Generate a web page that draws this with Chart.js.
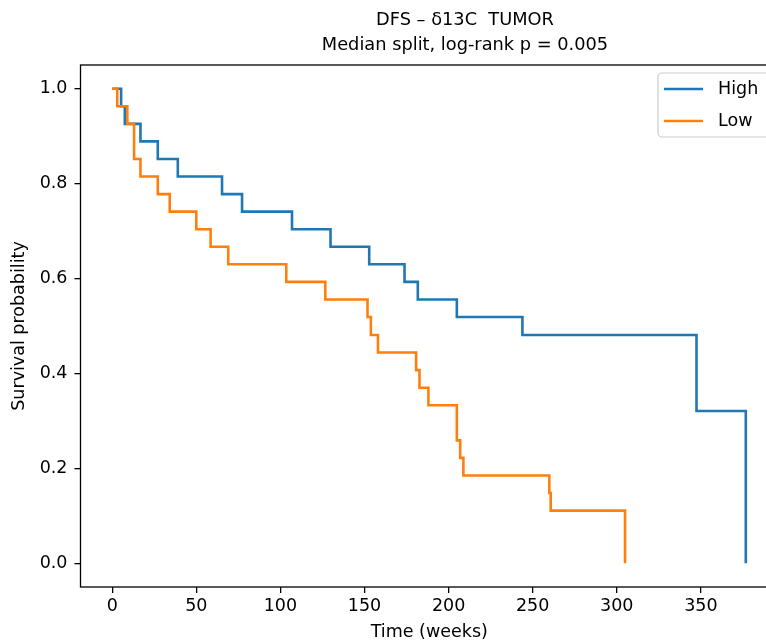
<!DOCTYPE html>
<html>
<head>
<meta charset="utf-8">
<script src="https://cdn.jsdelivr.net/npm/chart.js@4.4.0/dist/chart.umd.min.js"></script>
<style>
  html, body { margin: 0; padding: 0; background: #fff; overflow: hidden; }
  #wrap { width: 800px; height: 643px; }
</style>
</head>
<body>
<div id="wrap"><canvas id="km" width="800" height="643"></canvas></div>
<script>
// Kaplan-Meier curves, DFS by d13C tumor (median split)
const titleLines = ["DFS – δ13C  TUMOR", "Median split, log-rank p = 0.005"];

const highTimes = [0, 5.3, 7.5, 16.8, 27.1, 39, 65.3, 77.2, 106.9, 129.8, 152.8, 173.8, 181.7, 204.9, 243.9, 347.4, 376.7];
const highSurv  = [1.0, 0.963, 0.926, 0.889, 0.852, 0.815, 0.778, 0.741, 0.704, 0.667, 0.630, 0.593, 0.556, 0.519, 0.481, 0.321, 0.0];

const lowTimes = [0, 3, 9, 13, 16.8, 27.1, 34.2, 50, 58.5, 69, 103.5, 126.7, 151.8, 153.8, 158, 180.7, 182.7, 188, 204.9, 206.9, 208.8, 259.9, 260.7, 304.9];
const lowSurv  = [1.0, 0.963, 0.926, 0.852, 0.815, 0.778, 0.741, 0.704, 0.667, 0.630, 0.593, 0.556, 0.519, 0.481, 0.444, 0.407, 0.370, 0.333, 0.259, 0.222, 0.185, 0.148, 0.111, 0.0];

const xTicks = [0, 50, 100, 150, 200, 250, 300, 350];
const yTicks = [0.0, 0.2, 0.4, 0.6, 0.8, 1.0];

const BLUE = "#1f77b4";
const ORANGE = "#ff7f0e";
const FONT = "DejaVu Sans";

Chart.defaults.font.family = FONT;
Chart.defaults.font.size = 17.5;
Chart.defaults.color = "#000";

const toPoints = (ts, ss) => ts.map((t, i) => ({ x: t, y: ss[i] }));

// frame, titles and legend drawn like matplotlib
const decor = {
  id: "decor",
  afterDatasetsDraw(chart) {
    const { ctx, chartArea: a } = chart;
    ctx.save();
    ctx.strokeStyle = "#000";
    ctx.lineWidth = 1.3;
    ctx.strokeRect(a.left, a.top, a.right - a.left, a.bottom - a.top);

    // titles (centred on the full figure, which is wider than the crop)
    ctx.fillStyle = "#000";
    ctx.font = "17.8px '" + FONT + "'";
    ctx.textAlign = "center";
    ctx.textBaseline = "middle";
    const cx = 465;
    ctx.fillText(titleLines[0], cx, 20);
    ctx.fillText(titleLines[1], cx, 45);

    // legend
    const bx = 658, by = 73, bw = 112, bh = 64, r = 4;
    ctx.beginPath();
    ctx.roundRect(bx, by, bw, bh, r);
    ctx.fillStyle = "rgba(255,255,255,0.8)";
    ctx.fill();
    ctx.strokeStyle = "#cccccc";
    ctx.lineWidth = 1.2;
    ctx.stroke();
    const rows = [89, 121];
    chart.data.datasets.forEach(ds => {
      const y = rows[ds.legendRow];
      ctx.beginPath();
      ctx.moveTo(664, y);
      ctx.lineTo(703, y);
      ctx.strokeStyle = ds.borderColor;
      ctx.lineWidth = 2.6;
      ctx.stroke();
      ctx.fillStyle = "#000";
      ctx.font = "17.5px '" + FONT + "'";
      ctx.textAlign = "left";
      ctx.fillText(ds.label, 718, y);
    });
    ctx.restore();
  }
};

new Chart(document.getElementById("km"), {
  type: "line",
  data: {
    datasets: [
      {
        label: "High",
        legendRow: 0,
        order: 1,
        data: toPoints(highTimes, highSurv),
        borderColor: BLUE,
        borderWidth: 2.6,
        stepped: "before",
        pointRadius: 0,
        fill: false
      },
      {
        label: "Low",
        legendRow: 1,
        order: 0,
        data: toPoints(lowTimes, lowSurv),
        borderColor: ORANGE,
        borderWidth: 2.6,
        stepped: "before",
        pointRadius: 0,
        fill: false
      }
    ]
  },
  options: {
    responsive: false,
    animation: false,
    devicePixelRatio: 1,
    layout: { padding: { left: 0, right: 22, top: 65, bottom: 0 } },
    plugins: {
      legend: { display: false },
      title: { display: false },
      tooltip: { enabled: false }
    },
    scales: {
      x: {
        type: "linear",
        min: -18.85,
        max: 395.85,
        afterBuildTicks: s => { s.ticks = xTicks.map(v => ({ value: v })); },
        afterFit: s => { s.height = 56; },
        ticks: { padding: 3, maxRotation: 0, callback: v => String(v) },
        grid: { drawOnChartArea: false, tickLength: 6, color: "#000", lineWidth: 1.3 },
        border: { display: false },
        title: { display: true, text: "Time (weeks)", padding: { top: 0, bottom: 0 } }
      },
      y: {
        type: "linear",
        min: -0.05,
        max: 1.05,
        afterBuildTicks: s => { s.ticks = yTicks.map(v => ({ value: v })); },
        afterFit: s => { s.width = 80.5; },
        ticks: { padding: 7, callback: v => v.toFixed(1) },
        grid: { drawOnChartArea: false, tickLength: 6, color: "#000", lineWidth: 1.3 },
        border: { display: false },
        title: { display: true, text: "Survival probability", padding: { top: 9, bottom: 0 } }
      }
    }
  },
  plugins: [decor]
});
</script>
</body>
</html>
